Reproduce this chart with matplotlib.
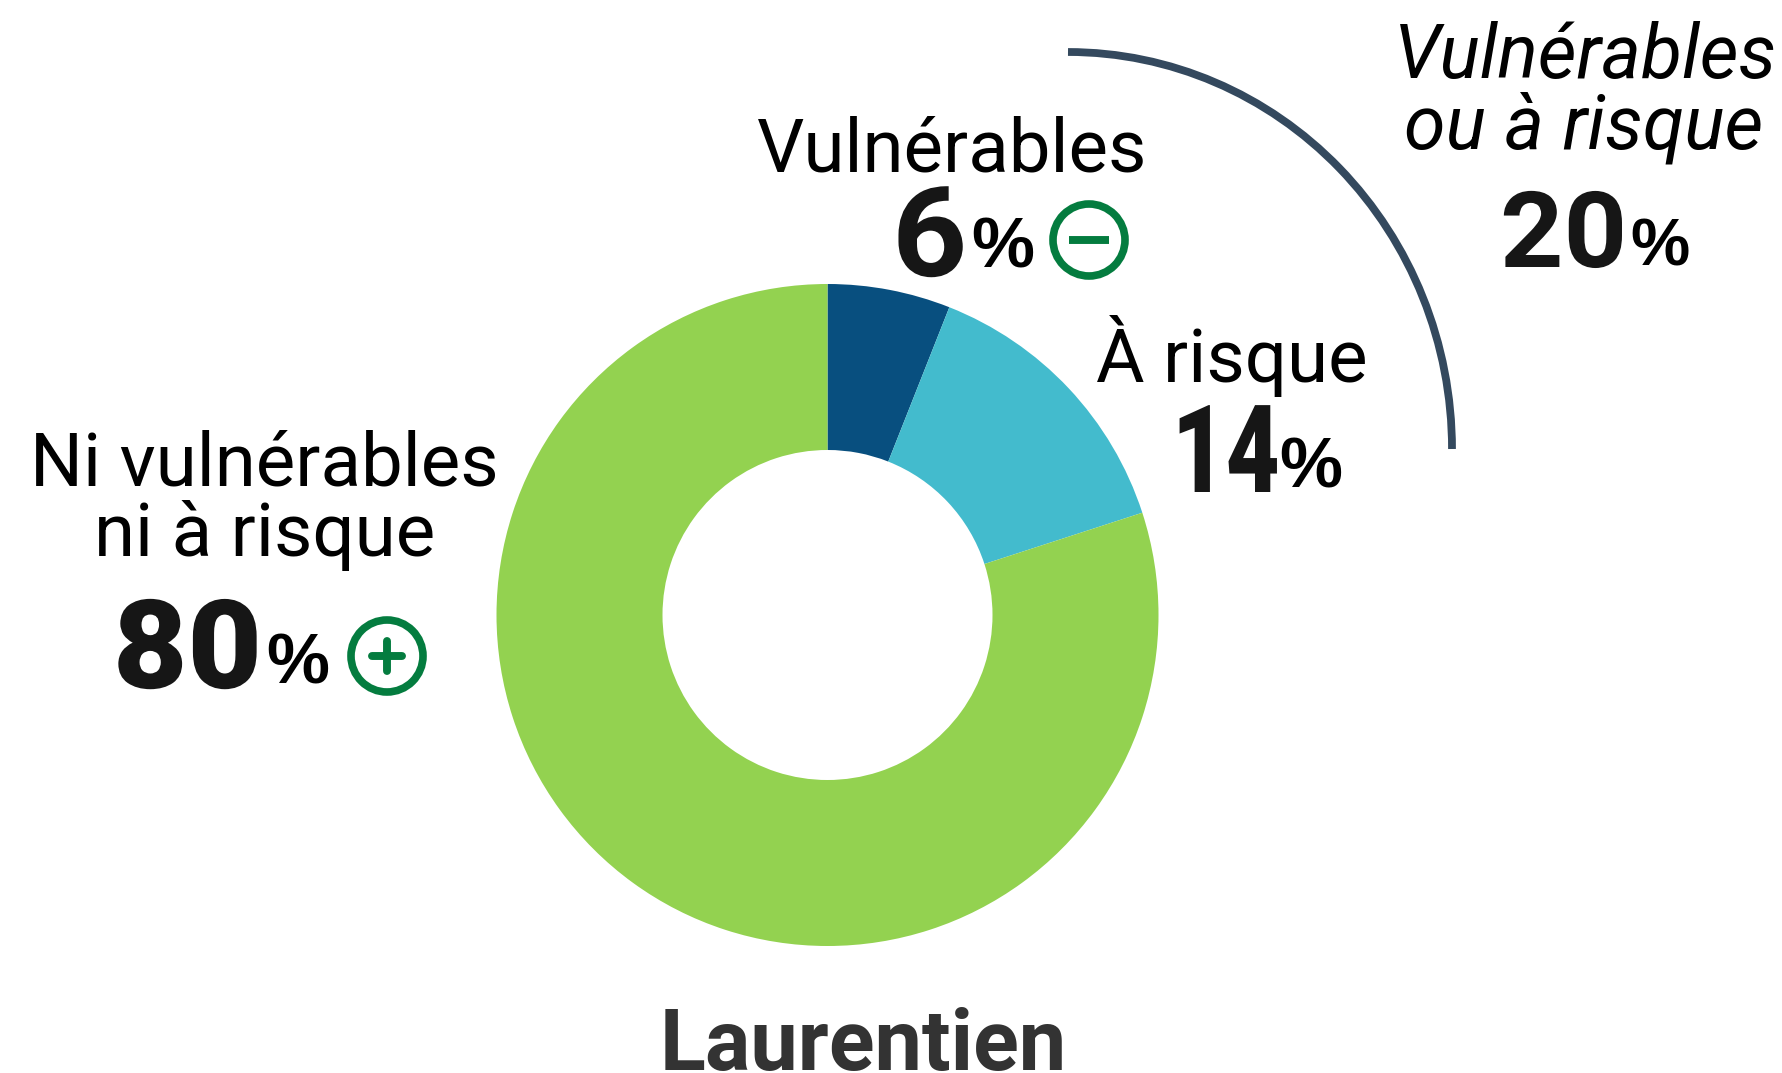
import matplotlib
matplotlib.use('Agg')
import matplotlib.pyplot as plt
from matplotlib.patches import Arc, Circle
from matplotlib.patheffects import AbstractPathEffect
from matplotlib.transforms import Affine2D

plt.rcParams['font.family'] = ['Roboto', 'DejaVu Sans']

W, H = 1782, 1073

labels = ['Vulnérables', 'À risque', 'Ni vulnérables\nni à risque']
values = [6, 14, 80]
colors = ['#084F7F', '#43BBCD', '#93D250']
total_label = 'Vulnérables\nou à risque'
total_value = 20
region = 'Laurentien'

HELV = ['Liberation Sans', 'DejaVu Sans']


class Stretch(AbstractPathEffect):
    # widens or narrows a text around its left edge, height stays
    def __init__(self, x0, sx):
        super().__init__()
        self.x0 = x0
        self.sx = sx

    def draw_path(self, renderer, gc, tpath, affine, rgbFace=None):
        squeeze = Affine2D().translate(-self.x0, 0).scale(self.sx, 1).translate(self.x0, 0)
        renderer.draw_path(gc, tpath, affine + squeeze, rgbFace)


def y_px(y):
    # reference pixels are measured from the top
    return H - y


def put(x, y, s, size, weight='normal', color='black', ha='center', style='normal', family=None, sx=None):
    t = ax.text(x, y_px(y), s, fontsize=size, fontweight=weight, color=color,
                ha=ha, va='baseline', fontstyle=style, family=family or ['Roboto', 'DejaVu Sans'])
    if sx:
        t.set_path_effects([Stretch(x, sx)])


def icon(x, y, sign):
    ax.add_patch(Circle((x, y_px(y)), 36, fill=False, edgecolor='#047C3F', linewidth=5.5))
    half = 15 if sign == '+' else 20
    ax.plot([x - half, x + half], [y_px(y), y_px(y)], color='#047C3F', linewidth=5.7,
            solid_capstyle='round' if sign == '+' else 'butt')
    if sign == '+':
        ax.plot([x, x], [y_px(y) - half, y_px(y) + half], color='#047C3F', linewidth=5.7,
                solid_capstyle='round')


fig = plt.figure(figsize=(W / 100, H / 100), dpi=100)
ax = fig.add_axes([0, 0, 1, 1])

ax.pie(values, colors=colors, center=(827.5, y_px(615)), radius=331, startangle=90,
       counterclock=False, wedgeprops={'width': 166, 'linewidth': 0})
ax.set_xlim(0, W)
ax.set_ylim(0, H)
ax.set_aspect('equal')
ax.axis('off')

# Bracket around the first two slices
ax.add_patch(Arc((1068, y_px(449)), 768, 794, theta1=0, theta2=90,
                 edgecolor='#34495E', linewidth=5.6))

num = '#161616'

# Vulnérables
put(952, 171, labels[0], 53.6)
put(892, 276, str(values[0]), 90, 'bold', num, 'left', sx=1.05)
put(971, 268, '%', 51, 'bold', ha='left', family=HELV)
icon(1089, 240, '-')

# À risque
put(1232, 382, labels[1], 53.6)
put(1172, 492, str(values[1]), 88, 'black', num, 'left', sx=0.76)
put(1279, 487, '%', 51, 'bold', ha='left', family=HELV)

# Ni vulnérables ni à risque
first, second = labels[2].split('\n')
put(264, 486, first, 53.6)
put(265, 556, second, 53.6)
put(113, 688, str(values[2]), 89, 'black', num, 'left', sx=1.04)
put(266, 683, '%', 51, 'bold', ha='left', family=HELV)
icon(387, 656, '+')

# Total
first, second = total_label.split('\n')
put(1585, 78, first, 54.2, style='italic')
put(1584, 148, second, 54.2, style='italic')
put(1500, 267, str(total_value), 76, 'bold', num, 'left', sx=1.05)
put(1630, 266, '%', 48, 'bold', ha='left', family=HELV)

put(863, 1070, region, 61, 'bold', '#333333')

fig.savefig('out.png', dpi=100, facecolor='white')
